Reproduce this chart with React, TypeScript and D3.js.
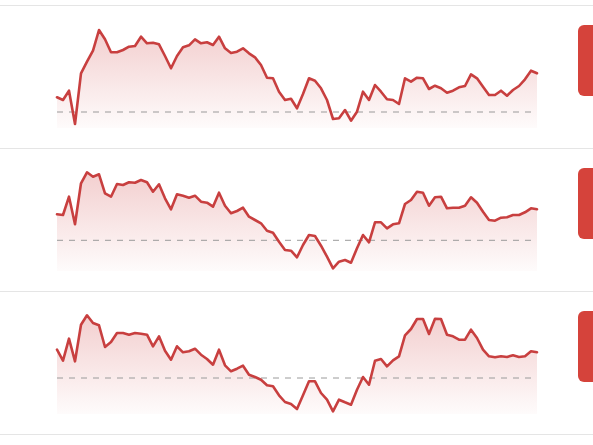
import { area as d3Area, line as d3Line, scaleLinear } from "d3";
import { useMemo } from "react";

const WIDTH = 593;
const HEIGHT = 445;
const ROW_TOPS = [5, 148, 291];
const ROW_HEIGHT = 143;
const PLOT = { left: 57, right: 537, top: 25, bottom: 125, fillBottom: 123 } as const;
const LINE_COLOR = "#c83f3f";
const BADGE_COLOR = "#d5433b";

// values, one per trading step
const seriesA = [
  32.7, 30, 39.3, 6, 56.7, 68.3, 79.3, 100, 90.7, 77.7, 77.7, 80, 83.3, 84, 93.3, 86.7, 87.3, 85.7,
  74, 61.7, 74, 82.7, 84.7, 90.7, 86.7, 87.7, 85, 93.3, 81.7, 77, 78.3, 81.7, 76.7, 72.7, 65, 52.3,
  51.7, 38.3, 30, 31.3, 21.7, 36, 51.7, 49.3, 41.7, 30, 11, 11.7, 20, 9.3, 18.3, 38.3, 30, 45, 38.3,
  30.7, 30, 26, 51.7, 48.3, 52.3, 51.7, 41, 44.3, 41.7, 37.3, 39.3, 42.7, 44, 55.7, 51.7, 43.3, 35,
  35, 39.3, 34.3, 40, 44, 50.7, 59.3, 56.7,
];
const seriesB = [
  58.7, 58, 76.3, 48.7, 89.7, 100.7, 96.3, 98.7, 79.7, 76.3, 89, 88, 90.7, 90.3, 93, 90.7, 81.3,
  88.7, 74.7, 63.7, 78.7, 77.3, 75.3, 77.3, 71.3, 70.3, 66.3, 80.3, 67.3, 59.7, 62, 65.3, 56.3, 53,
  49.7, 42.3, 40.3, 31.3, 23, 22.3, 15.7, 28, 38, 37, 27.3, 16.3, 4.7, 11.3, 13, 10.3, 24.7, 38,
  30.7, 50.7, 50.7, 44.7, 48.7, 49.7, 69, 73, 81.3, 80.3, 67.3, 75.7, 76.3, 64.7, 65.3, 65.3, 67.3,
  75.7, 70.3, 61.3, 53, 52.3, 55.3, 55.7, 58, 58, 60.7, 64.7, 63.7,
];
const seriesC = [
  66.3, 55.3, 77.3, 54.7, 91.3, 100.7, 93, 90.7, 69, 74, 83, 83, 81.3, 83, 82.3, 81.3, 69.7, 79.7,
  65.3, 56.3, 69.7, 63.7, 64.7, 67.3, 61.3, 57, 51.3, 66.3, 50.7, 44.7, 47.3, 50.3, 41.3, 39, 36.3,
  30.7, 29.7, 20.7, 14, 12, 7, 20.7, 34.7, 34.7, 23, 16.3, 4.7, 16.3, 13.7, 11.3, 26.3, 39, 31.3,
  55.3, 57, 49.7, 55.7, 59.7, 80.7, 87, 97, 97, 82, 97.3, 97, 81.3, 79.7, 76.3, 76.3, 86.3, 78, 66.3,
  59.7, 58.7, 59.7, 59, 60.7, 59, 59.7, 64.7, 63.7,
];
const references = [18, 32.7, 38];
const series = [seriesA, seriesB, seriesC];

type SparkRowProps = {
  index: number;
  values: number[];
  reference: number;
  top: number;
};

const SparkRow = ({ index, values, reference, top }: SparkRowProps) => {
  const xScale = useMemo(
    () => scaleLinear().domain([0, values.length - 1]).range([PLOT.left, PLOT.right]),
    [values],
  );
  const yScale = useMemo(
    () => scaleLinear().domain([0, 100]).range([top + PLOT.bottom, top + PLOT.top]),
    [top],
  );

  const linePath = useMemo(() => {
    const generator = d3Line<number>()
      .x((_, i) => xScale(i))
      .y((v) => yScale(v));
    return generator(values) ?? "";
  }, [values, xScale, yScale]);

  const areaPath = useMemo(() => {
    const generator = d3Area<number>()
      .x((_, i) => xScale(i))
      .y0(top + PLOT.fillBottom)
      .y1((v) => yScale(v));
    return generator(values) ?? "";
  }, [values, xScale, yScale, top]);

  const gradId = `spark-fill-${index}`;
  const refY = yScale(reference);

  return (
    <g>
      <defs>
        <linearGradient id={gradId} x1="0" x2="0" y1="0" y2="1">
          <stop offset="0%" stopColor="#d04545" stopOpacity={0.26} />
          <stop offset="100%" stopColor="#d04545" stopOpacity={0.02} />
        </linearGradient>
      </defs>
      <path d={areaPath} fill={`url(#${gradId})`} stroke="none" />
      <line
        x1={xScale(0)}
        x2={xScale(values.length - 1)}
        y1={refY}
        y2={refY}
        stroke="#9a9a9a"
        strokeWidth={1}
        strokeDasharray="6,6"
      />
      <path
        d={linePath}
        fill="none"
        stroke={LINE_COLOR}
        strokeWidth={2.6}
        strokeLinejoin="round"
        strokeLinecap="round"
      />
      <rect x={578} y={top + 20} width={60} height={71} rx={6} ry={6} fill={BADGE_COLOR} />
    </g>
  );
};

export default function App() {
  const separators = [...ROW_TOPS, ROW_TOPS[ROW_TOPS.length - 1] + ROW_HEIGHT];
  return (
    <svg
      width={WIDTH}
      height={HEIGHT}
      style={{ position: "absolute", left: 0, top: 0, background: "#fff" }}
    >
      {separators.map((y) => (
        <line key={y} x1={0} x2={WIDTH} y1={y + 0.5} y2={y + 0.5} stroke="#e5e5e5" strokeWidth={1} />
      ))}
      {series.map((values, i) => (
        <SparkRow key={i} index={i} values={values} reference={references[i]} top={ROW_TOPS[i]} />
      ))}
    </svg>
  );
}
